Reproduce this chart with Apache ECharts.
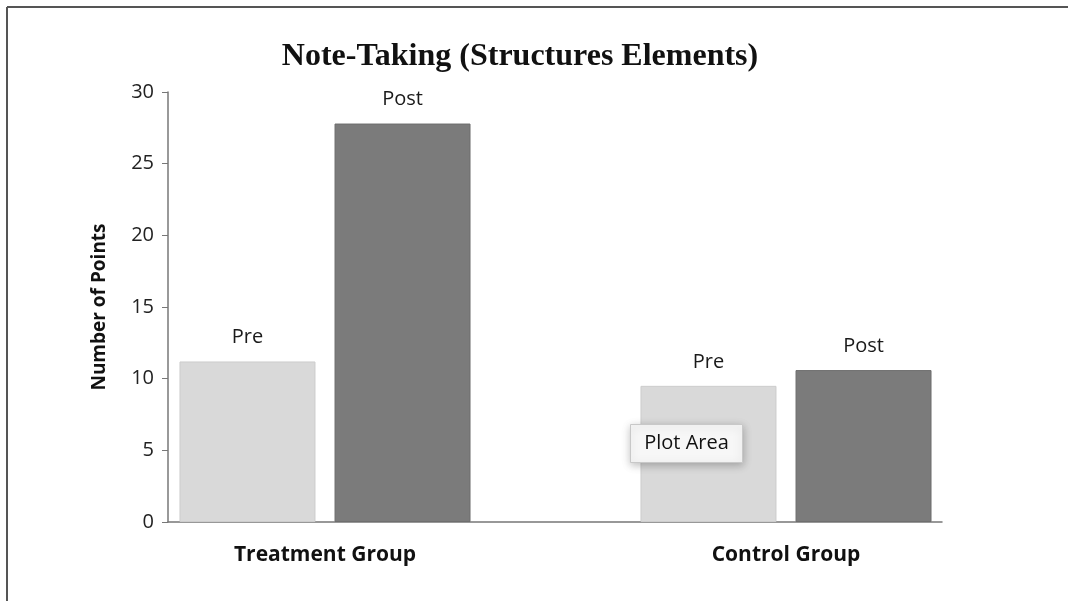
<!DOCTYPE html>
<html>
<head>
<meta charset="utf-8">
<script src="https://cdn.jsdelivr.net/npm/echarts@6/dist/echarts.min.js"></script>
<style>
  html, body { margin: 0; padding: 0; background: #fff; }
  #chart { width: 1068px; height: 601px; }
</style>
</head>
<body>
<div id="chart"></div>
<script>
// data
const categories = ['Treatment Group', 'Control Group'];
const preValues = [11.2, 9.5];
const postValues = [27.8, 10.6];
const yMin = 0;
const yMax = 30;
const yStep = 5;

const myChart = echarts.init(document.getElementById('chart'));

const labelFont = { fontFamily: 'Open Sans', fontSize: 20, color: '#1a1a1a' };

const option = {
  backgroundColor: '#fff',
  animation: false,
  title: {
    text: 'Note-Taking (Structures Elements)',
    left: 515,
    top: 36,
    textAlign: 'center',
    textStyle: { fontFamily: 'Liberation Serif', fontWeight: 'bold', fontSize: 32, color: '#111' }
  },
  // grid 0 only carries the visible axes, grid 1 places the bars
  grid: [
    { left: 168, right: 126, top: 92, bottom: 79 },
    { left: 94.5, right: 51.5, top: 92, bottom: 79 }
  ],
  xAxis: [
    {
      gridIndex: 0,
      type: 'category',
      data: categories,
      axisLine: { lineStyle: { color: '#777', width: 1.5 } },
      axisTick: { show: false },
      axisLabel: { show: false }
    },
    {
      gridIndex: 1,
      type: 'category',
      data: categories,
      axisLine: { show: false },
      axisTick: { show: false },
      axisLabel: {
        margin: 23,
        fontFamily: 'Open Sans',
        fontWeight: 'bold',
        fontSize: 21,
        color: '#111'
      }
    }
  ],
  yAxis: [
    {
      gridIndex: 0,
      type: 'value',
      min: yMin,
      max: yMax,
      interval: yStep,
      name: 'Number of Points',
      nameLocation: 'middle',
      nameGap: 59,
      nameTextStyle: { fontFamily: 'Open Sans', fontWeight: 'bold', fontSize: 19, color: '#111' },
      axisLine: { show: true, lineStyle: { color: '#777', width: 1.5 } },
      axisTick: { show: true, length: 6, lineStyle: { color: '#777' } },
      axisLabel: { margin: 14, fontFamily: 'Open Sans', fontSize: 20, color: '#222' },
      splitLine: { show: false }
    },
    {
      gridIndex: 1,
      type: 'value',
      min: yMin,
      max: yMax,
      interval: yStep,
      show: false,
      splitLine: { show: false }
    }
  ],
  series: [
    {
      name: 'Pre',
      type: 'bar',
      xAxisIndex: 1,
      yAxisIndex: 1,
      data: preValues,
      barWidth: 136,
      barGap: '14%',
      itemStyle: { color: '#d9d9d9', borderColor: '#cdcdcd', borderWidth: 1 },
      label: Object.assign({ show: true, position: 'top', distance: 14, formatter: 'Pre' }, labelFont)
    },
    {
      name: 'Post',
      type: 'bar',
      xAxisIndex: 1,
      yAxisIndex: 1,
      data: postValues,
      barWidth: 136,
      barGap: '14%',
      itemStyle: { color: '#7b7b7b', borderColor: '#6e6e6e', borderWidth: 1 },
      label: Object.assign({ show: true, position: 'top', distance: 14, formatter: 'Post' }, labelFont)
    }
  ],
  graphic: [
    // frame lines at the top and left edge
    { type: 'line', shape: { x1: 7, y1: 7, x2: 1068, y2: 7 }, style: { stroke: '#555', lineWidth: 2 } },
    { type: 'line', shape: { x1: 7, y1: 7, x2: 7, y2: 601 }, style: { stroke: '#555', lineWidth: 2 } },
    // "Plot Area" hover tip
    {
      type: 'group',
      left: 630,
      top: 424,
      z: 100,
      children: [
        {
          type: 'rect',
          z: 100,
          shape: { x: 0, y: 0, width: 112, height: 38 },
          style: { fill: '#f7f7f7', stroke: '#c8c8c8', lineWidth: 1, shadowBlur: 8, shadowColor: 'rgba(0,0,0,0.25)', shadowOffsetY: 2 }
        },
        {
          type: 'text',
          z: 101,
          x: 56,
          y: 19,
          style: { text: 'Plot Area', fontFamily: 'Open Sans', fontSize: 20, fill: '#111', align: 'center', verticalAlign: 'middle' }
        }
      ]
    }
  ]
};

myChart.setOption(option);
</script>
</body>
</html>
